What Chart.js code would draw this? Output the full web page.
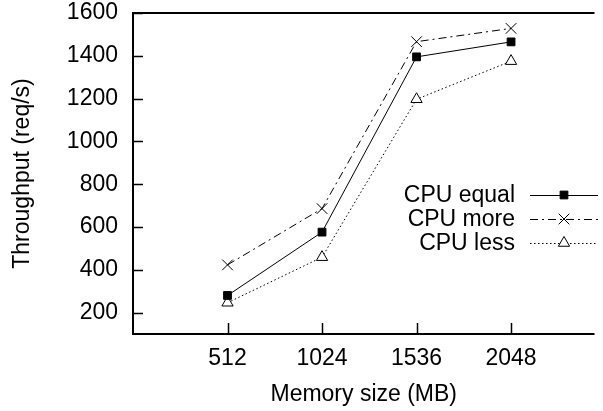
<!DOCTYPE html>
<html lang="en">

<head>
    <meta charset="UTF-8">
    <title>Throughput vs memory size</title>
    <script src="https://cdn.jsdelivr.net/npm/chart.js"></script>
    <style>
        body {
            margin: 0;
            padding: 0;
            background: #fff;
        }

        #wrap {
            width: 603px;
            height: 411px;
        }
    </style>
</head>

<body>
    <div id="wrap">
        <canvas id="chart" width="603" height="411"></canvas>
    </div>

    <script>
        const memorySizes = [512, 1024, 1536, 2048];
        const cpuEqual = [280, 576, 1395, 1465];
        const cpuMore = [423, 686, 1466, 1528];
        const cpuLess = [246, 459, 1197, 1375];
        const xTicks = [512, 1024, 1536, 2048];
        const yTicks = [200, 400, 600, 800, 1000, 1200, 1400, 1600];

        const FONT = '"Liberation Sans", Arial, Helvetica, sans-serif';
        const SIZE = 23;

        const toPoints = (ys) => memorySizes.map((x, i) => ({ x: x, y: ys[i] }));

        // gnuplot-style frame with inward ticks, plus the legend block
        const framePlugin = {
            id: 'frame',
            afterDraw(chart) {
                const ctx = chart.ctx;
                const a = chart.chartArea;
                const xs = chart.scales.x;
                const ys = chart.scales.y;
                ctx.save();
                ctx.strokeStyle = '#000';
                ctx.lineWidth = 2;
                ctx.beginPath();
                ctx.moveTo(a.right, a.top);
                ctx.lineTo(a.left, a.top);
                ctx.lineTo(a.left, a.bottom);
                ctx.lineTo(a.right, a.bottom);
                ctx.stroke();

                ctx.lineWidth = 1.5;
                ctx.beginPath();
                yTicks.forEach(v => {
                    const py = Math.round(ys.getPixelForValue(v)) + 0.5;
                    ctx.moveTo(a.left, py);
                    ctx.lineTo(a.left + 10, py);
                });
                xTicks.forEach(v => {
                    const px = Math.round(xs.getPixelForValue(v)) + 0.5;
                    ctx.moveTo(px, a.bottom);
                    ctx.lineTo(px, a.bottom - 11);
                });
                ctx.stroke();

                // legend: label on the left, line sample with marker on the right
                const rows = [195, 219, 243];
                ctx.font = SIZE + 'px ' + FONT;
                ctx.textAlign = 'right';
                ctx.textBaseline = 'middle';
                chart.data.datasets.forEach((ds, i) => {
                    const y = rows[i];
                    ctx.fillStyle = '#000';
                    ctx.fillText(ds.label, 515, y + 1);
                    ctx.strokeStyle = '#000';
                    ctx.lineWidth = 1;
                    ctx.setLineDash(ds.borderDash || []);
                    ctx.beginPath();
                    ctx.moveTo(530, y + 0.5);
                    ctx.lineTo(598, y + 0.5);
                    ctx.stroke();
                    ctx.setLineDash([]);
                    ctx.fillStyle = ds.pointBackgroundColor;
                    Chart.helpers.drawPoint(ctx, {
                        pointStyle: ds.pointStyle,
                        radius: ds.pointRadius,
                        borderWidth: 1,
                        rotation: 0
                    }, 564, y);
                });
                ctx.restore();
            }
        };

        const ctx = document.getElementById('chart').getContext('2d');

        new Chart(ctx, {
            type: 'line',
            data: {
                datasets: [{
                    label: 'CPU equal',
                    data: toPoints(cpuEqual),
                    borderColor: '#000',
                    borderWidth: 1,
                    pointStyle: 'rect',
                    pointRadius: 5.5,
                    pointBackgroundColor: '#000',
                    pointBorderColor: '#000',
                    pointBorderWidth: 1
                }, {
                    label: 'CPU more',
                    data: toPoints(cpuMore),
                    borderColor: '#000',
                    borderWidth: 1,
                    borderDash: [8, 4, 2, 4],
                    pointStyle: 'crossRot',
                    pointRadius: 7.5,
                    pointBackgroundColor: '#000',
                    pointBorderColor: '#000',
                    pointBorderWidth: 1
                }, {
                    label: 'CPU less',
                    data: toPoints(cpuLess),
                    borderColor: '#000',
                    borderWidth: 1,
                    borderDash: [1.5, 2.5],
                    pointStyle: 'triangle',
                    pointRadius: 6.5,
                    pointBackgroundColor: '#fff',
                    pointBorderColor: '#000',
                    pointBorderWidth: 1
                }]
            },
            options: {
                responsive: false,
                animation: false,
                layout: { padding: 0 },
                plugins: {
                    legend: { display: false },
                    tooltip: { enabled: false }
                },
                scales: {
                    x: {
                        type: 'linear',
                        min: 0,
                        max: 2500,
                        afterBuildTicks: (s) => { s.ticks = xTicks.map(v => ({ value: v })); },
                        afterFit: (s) => { s.height = 77; },
                        grid: { display: false },
                        border: { display: false },
                        ticks: {
                            color: '#000',
                            padding: 3,
                            maxRotation: 0,
                            callback: (v) => String(v),
                            font: { family: FONT, size: SIZE }
                        },
                        title: {
                            display: true,
                            text: 'Memory size (MB)',
                            color: '#000',
                            padding: { top: 0, bottom: 3 },
                            font: { family: FONT, size: SIZE }
                        }
                    },
                    y: {
                        min: 100,
                        max: 1600,
                        afterBuildTicks: (s) => { s.ticks = yTicks.map(v => ({ value: v })); },
                        afterFit: (s) => {
                            s.width = 133;
                            s.paddingTop = 13;
                            s.paddingBottom = 0;
                        },
                        grid: { display: false },
                        border: { display: false },
                        ticks: {
                            color: '#000',
                            padding: 7,
                            callback: (v) => String(v),
                            font: { family: FONT, size: SIZE }
                        },
                        title: {
                            display: true,
                            text: 'Throughput (req/s)',
                            color: '#000',
                            padding: { top: 9, bottom: 0 },
                            font: { family: FONT, size: SIZE }
                        }
                    }
                }
            },
            plugins: [framePlugin]
        });
    </script>
</body>

</html>
